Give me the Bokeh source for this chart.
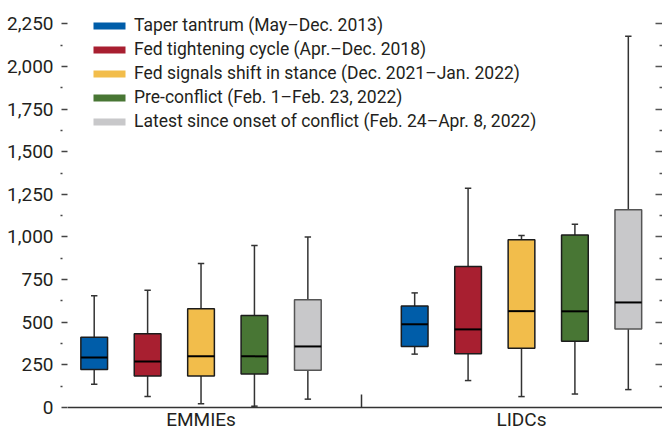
from bokeh.plotting import figure
from bokeh.models import (FixedTicker, LinearAxis, Legend, LegendItem,
                          NumeralTickFormatter, Range1d, ColumnDataSource)
from bokeh.core.properties import value
from bokeh.embed import file_html
from bokeh.resources import INLINE

# ---------------- data ----------------
groups = ["EMMIEs", "LIDCs"]
periods = [
    "Taper tantrum (May\u2013Dec. 2013)",
    "Fed tightening cycle (Apr.\u2013Dec. 2018)",
    "Fed signals shift in stance (Dec. 2021\u2013Jan. 2022)",
    "Pre-conflict (Feb. 1\u2013Feb. 23, 2022)",
    "Latest since onset of conflict (Feb. 24\u2013Apr. 8, 2022)",
]
colors = ["#005DA9", "#A81F30", "#F2BD4B", "#487634", "#C8C8CA"]

# values per period: [EMMIEs, LIDCs]
whisker_low = [[137, 313], [64, 158], [22, 64], [8, 79], [49, 105]]
q1 = [[223, 357], [184, 315], [184, 347], [197, 389], [219, 461]]
median = [[293, 488], [270, 458], [301, 565], [300, 564], [358, 616]]
q3 = [[412, 595], [432, 827], [579, 983], [539, 1012], [632, 1160]]
whisker_high = [[655, 672], [688, 1286], [844, 1008], [950, 1075], [1000, 2177]]

y_ticks = [0, 250, 500, 750, 1000, 1250, 1500, 1750, 2000, 2250]
y_minor = [125, 375, 625, 875, 1125, 1375, 1625, 1875, 2125]

FONT = "Roboto"
TXT = "#231f20"
n_per = len(periods)
group_span = n_per + 1

p = figure(width=662, height=432, x_range=Range1d(0, 11.14),
           y_range=Range1d(-146.6, 2386.6), output_backend="svg", toolbar_location=None,
           x_axis_location=None, y_axis_location=None,
           min_border_left=67, min_border_right=0, min_border_top=0, min_border_bottom=0)
p.xgrid.visible = False
p.ygrid.visible = False
p.outline_line_color = None
p.background_fill_color = "white"

cap_half = 0.06
box_w = 0.5
legend_items = []
for i in range(n_per):
    xs = [g * group_span + i + 0.5 for g in range(len(groups))]
    src = ColumnDataSource(dict(
        x=xs,
        lo=whisker_low[i], q1=q1[i], med=median[i], q3=q3[i], hi=whisker_high[i],
        cl=[x - cap_half for x in xs], cr=[x + cap_half for x in xs],
        bl=[x - box_w / 2 for x in xs], br=[x + box_w / 2 for x in xs],
    ))
    p.segment(x0="x", y0="lo", x1="x", y1="hi", source=src, line_color="#333333", line_width=1.5)
    p.segment(x0="cl", y0="hi", x1="cr", y1="hi", source=src, line_color="#333333", line_width=1.5)
    p.segment(x0="cl", y0="lo", x1="cr", y1="lo", source=src, line_color="#333333", line_width=1.5)
    fill_r = p.vbar(x="x", width=box_w, bottom="q1", top="q3", source=src,
                    fill_color=colors[i], line_color=None)
    p.vbar(x="x", width=box_w, bottom="q1", top="q3", source=src, fill_color=None,
           line_color="#555555" if i == n_per - 1 else "#1c1c1c", line_width=1.5)
    p.segment(x0="bl", y0="med", x1="br", y1="med", source=src, line_color="#000000", line_width=2)
    legend_items.append(LegendItem(label=periods[i], renderers=[fill_r]))

# left axis with labels
yl = LinearAxis(ticker=FixedTicker(ticks=y_ticks, minor_ticks=y_minor),
                formatter=NumeralTickFormatter(format="0,0"),
                axis_line_color=None, major_tick_out=6, major_tick_in=0,
                minor_tick_out=7, minor_tick_in=-5,
                major_tick_line_color="#444444", minor_tick_line_color="#444444",
                major_tick_line_width=1.5, minor_tick_line_width=1.5,
                major_label_standoff=7, major_label_text_font=FONT,
                major_label_text_font_size="19px", major_label_text_color=TXT)
p.add_layout(yl, "left")

# right axis: ticks only, pinned near the right edge
yr = LinearAxis(ticker=FixedTicker(ticks=y_ticks[1:], minor_ticks=y_minor),
                major_label_overrides={t: "" for t in y_ticks[1:]},
                fixed_location=11.01,
                axis_line_color=None, major_tick_out=7, major_tick_in=0,
                minor_tick_out=7, minor_tick_in=-4,
                major_tick_line_color="#555555", minor_tick_line_color="#555555",
                major_tick_line_width=1.5, minor_tick_line_width=1.5,
                major_label_standoff=0)
p.add_layout(yr, "right")

# baseline with group separator
centers = [g * group_span + (n_per - 1) / 2 + 0.5 for g in range(len(groups))]
seps = [(centers[g] + centers[g + 1]) / 2 for g in range(len(groups) - 1)]
xb = LinearAxis(ticker=FixedTicker(ticks=[], minor_ticks=seps),
                fixed_location=y_ticks[0],
                axis_line_color="#333333", axis_line_width=1.5,
                major_tick_out=0, major_tick_in=0,
                minor_tick_in=13, minor_tick_out=0,
                minor_tick_line_color="#333333", minor_tick_line_width=1.5,
                major_label_standoff=0)
p.add_layout(xb, "below")

p.text(x=centers, y=[y_ticks[0]] * len(groups), text=groups, text_align="center",
       text_baseline="alphabetic", y_offset=12, text_font=value(FONT),
       text_font_size=value("19px"), text_color=TXT)

legend = Legend(items=legend_items, location=(22, 299), orientation="vertical",
                glyph_width=40, glyph_height=9, label_standoff=5, spacing=0,
                padding=0, margin=0, label_height=24,
                border_line_color=None, background_fill_alpha=0,
                label_text_font=FONT, label_text_font_size="17.5px", label_text_color=TXT)
p.add_layout(legend)

open("out.html", "w").write(file_html(p, INLINE))
